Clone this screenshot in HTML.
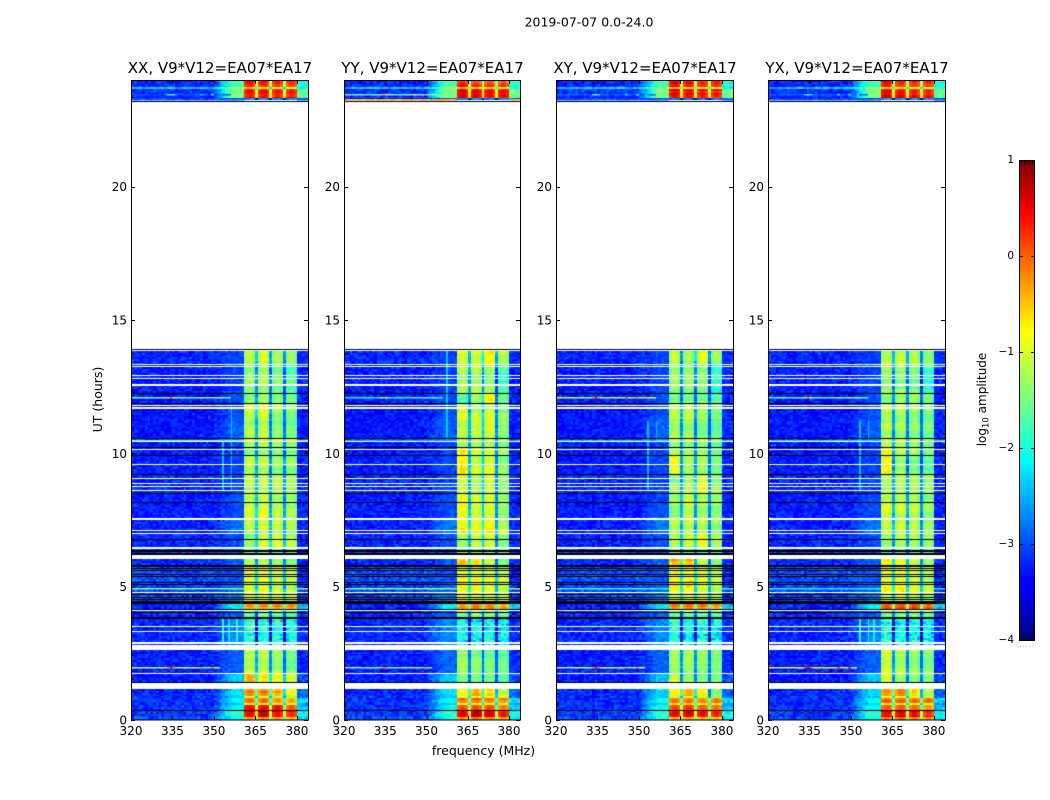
<!DOCTYPE html>
<html lang="en">
<head>
<meta charset="utf-8">
<title>2019-07-07 amplitude waterfall</title>
<style>
html,body{margin:0;padding:0;background:#fff;width:1050px;height:800px;overflow:hidden}
#stage{position:relative;width:1050px;height:800px}
canvas{position:absolute;display:block}
svg{position:absolute;left:0;top:0}
text{font-family:"DejaVu Sans","Liberation Sans",sans-serif;fill:#000}
</style>
</head>
<body>
<div id="stage">
<canvas id="heat-xx"></canvas>
<canvas id="heat-yy"></canvas>
<canvas id="heat-xy"></canvas>
<canvas id="heat-yx"></canvas>
<canvas id="cbar"></canvas>
<svg id="overlay" width="1050" height="800" xmlns="http://www.w3.org/2000/svg">
<text x="589" y="26.5" font-size="12.5" text-anchor="middle">2019-07-07 0.0-24.0</text>
<text x="483.5" y="755" font-size="12.5" text-anchor="middle">frequency (MHz)</text>
<text transform="translate(102,399.5) rotate(-90)" font-size="12.5" text-anchor="middle">UT (hours)</text>
<text transform="translate(986,399.5) rotate(-90)" font-size="12" text-anchor="middle">log<tspan font-size="8.5" dy="2.5">10</tspan><tspan dy="-2.5"> amplitude</tspan></text>
<text x="1017" y="647" font-size="6" fill="#888" style="fill:#888;letter-spacing:.95px">......</text>
</svg>
</div>
<script>
// ---- panel labels ----
const polarisations = ['XX', 'YY', 'XY', 'YX'];
const baselineLabel = 'V9*V12=EA07*EA17';
const freqTicks = [320, 335, 350, 365, 380];
const utTicks = [0, 5, 10, 15, 20];
const cbarTicks = [1, 0, -1, -2, -3, -4];

// ---- time blocks: upper and lower edge in UT hours ----
const blockTop = [24,23.72,23.66,23.31,13.93,13.31,12.26,11.89,11.3,10.58,10.43,10.25,9.93,9.21,8.51,7.51,6.99,6.43,6.02,5.81,5.2,4.76,4.4,4.18,3.83,2.64,1.73,1.18,0.9,0.81,0.64,0.56,0.39,0.1];
const blockBot = [23.72,23.66,23.31,23.25,13.31,12.26,11.89,11.3,10.58,10.43,10.25,9.93,9.21,8.51,7.51,6.99,6.43,6.02,5.81,5.2,4.76,4.4,4.18,3.83,2.64,1.73,1.18,0.9,0.81,0.64,0.56,0.39,0.1,0];

// ---- log10 amplitude per block: below band, 356-360 MHz shoulder, above 380 MHz ----
const oobLevel = [-3.2,-2.4,-3.15,-3.2,-3.2,-3.25,-3.25,-3.3,-3.3,-3.05,-3.25,-3.28,-3.25,-3.2,-3.25,-3.25,-3.2,-3.1,-3.2,-3.0,-3.05,-3.05,-3.2,-3.2,-3.2,-3.25,-3.25,-3.2,-3.15,-3.15,-3.15,-3.15,-3.1,-3.0];
const shoulderLevel = [-1.8,-1.4,-1.5,-2.9,-3.05,-3.05,-3,-3,-2.9,-2.7,-3.05,-3.05,-3.05,-3.05,-3,-2.8,-3,-3,-2.9,-3,-2.9,-2.7,-2.2,-2.9,-2.7,-2.9,-2.4,-2.3,-2.4,-2.1,-2.4,-2.1,-1.9,-2.1];
const upperLevel = [-2,-2.1,-1.6,-2.9,-3.2,-3.2,-3.2,-3.2,-3.2,-3.1,-3.2,-3.2,-3.2,-3.2,-3.2,-3.2,-3.2,-3.2,-3.2,-3.15,-3.1,-3.1,-2.4,-3.15,-3.15,-3.2,-3,-2.9,-2.8,-2.3,-2.7,-2.4,-2.1,-2.3];
const bandScatter = [0.06,0.08,0.05,0.2,0.12,0.12,0.14,0.14,0.14,0.15,0.14,0.12,0.12,0.1,0.12,0.12,0.1,0.18,0.1,0.14,0.14,0.14,0.05,0.25,0.45,0.08,0.08,0.05,0.05,0.05,0.05,0.05,0.05,0.05];

// ---- log10 amplitude of the four 5 MHz sub-bands, per block ----
const bandXX = [[.45,.4,.35,.3],[-.3,-.5,-.6,-.7],[.5,.5,.45,.45],[-2.6,-2.6,-2.6,-2.6],[-1.05,-.9,-1.1,-1.2],[-1.2,-1.1,-1.3,-1.5],[-1.3,-1.15,-1.3,-1.4],[-.85,-.7,-1.1,-1.2],[-1.1,-1,-1.25,-1.35],[-.7,-.7,-.7,-.8],[-1.2,-1.1,-1.2,-1.3],[-1.2,-1.1,-1.2,-1.3],[-1,-1,-1.2,-1.2],[-1,-1,-1,-1.1],[-.9,-.8,-1,-1.1],[-1,-.9,-.95,-1.05],[-1.3,-.9,-.85,-1],[-1.35,-1.2,-1.3,-1.3],[-1.1,-1.1,-1.2,-1.3],[-.6,-.6,-.7,-.8],[-.8,-.7,-.9,-1],[-.8,-.7,-.8,-.9],[-.3,-.25,-.2,-.25],[-1.35,-1.3,-1.4,-1.5],[-1.8,-1.9,-1.8,-1.9],[-.95,-.95,-1.1,-1.3],[-.4,-.6,-.7,-.9],[-.15,-.15,-.35,-.7],[-.85,-.8,-.9,-1],[0,0,-.2,-.3],[-.6,-.6,-.7,-.8],[.35,.35,.3,-.05],[.6,.8,.55,.4],[-.2,-.1,-.2,-.3]];
const bandYY = [[.45,.25,.2,.2],[-.4,-.5,-.6,-.7],[.55,.5,.4,.45],[-2.6,-2.6,-2.6,-2.6],[-.8,-.9,-.6,-1],[-1.1,-1.1,-1.2,-1.6],[-1.5,-1.1,-.6,-1.3],[-.75,-1,-.85,-1.15],[-1,-1,-.9,-1.25],[-.8,-.9,-.8,-1],[-1.1,-1.1,-1.1,-1.3],[-.6,-1,-1,-1.2],[-.5,-.9,-.8,-1.2],[-.8,-1,-.8,-1.1],[-.7,-.95,-.9,-1.2],[-.6,-.7,-.6,-1],[-1.1,-.9,-.8,-1.2],[-1.35,-1.3,-1.3,-1.4],[-.4,-.5,-.9,-1.3],[-.7,-.7,-.75,-.9],[-.7,-.7,-.8,-1],[-.7,-.6,-.75,-.9],[-.15,-.05,-.1,-.25],[-1.4,-1.4,-1.4,-1.5],[-1.85,-1.9,-1.9,-2],[-1.1,-1.25,-1.35,-1.4],[-1.3,-1.35,-1.35,-1.5],[-.7,-.4,-.5,-1],[-.8,-.8,-.85,-1],[-.05,0,-.1,-.15],[-.6,-.6,-.7,-.8],[.2,.2,.2,-.05],[.5,.7,.55,.35],[-.2,-.1,-.2,-.3]];
const bandXY = [[.5,.4,.3,.3],[-.4,-.5,-.6,-.7],[.5,.45,.4,.35],[-2.6,-2.6,-2.6,-2.6],[-1,-1.2,-.8,-1.2],[-1.15,-1.2,-1.25,-1.7],[-1.3,-1.3,-1.3,-1.4],[-1,-1,-1.15,-1.35],[-1.1,-1.15,-1.3,-1.45],[-.9,-.9,-.9,-1.1],[-1.2,-1.2,-1.2,-1.4],[-1,-1.1,-1.1,-1.3],[-.7,-1.1,-1.1,-1.3],[-1.2,-1.1,-.7,-1.2],[-1.2,-.95,-1.1,-1.2],[-1,-1,-1,-1.2],[-1.1,-.95,-.7,-1.1],[-1.35,-1.3,-1.3,-1.4],[-.3,-.4,-.9,-1.2],[-.7,-.7,-.8,-1],[-.65,-.6,-.8,-1],[-.8,-.75,-.8,-1],[-.15,-.1,-.1,-.3],[-1.35,-1.4,-1.4,-1.45],[-1.8,-1.9,-1.85,-1.95],[-1.15,-1.15,-1.2,-1.3],[-.85,-1.2,-1.25,-1.3],[-.5,-.25,-.5,-1.2],[-.85,-.85,-.9,-1.1],[-.1,-.1,-.2,-.1],[-.6,-.6,-.7,-.8],[.1,.2,0,-.1],[.5,.6,.5,.35],[-.25,-.15,-.25,-.35]];
const bandYX = [[.5,.3,.3,.3],[-.4,-.5,-.6,-.7],[.55,.45,.4,.35],[-2.6,-2.6,-2.6,-2.6],[-1,-.9,-1,-1.2],[-1.15,-1.2,-1.3,-1.7],[-1.3,-1.2,-1.2,-1.4],[-.95,-1.05,-1.15,-1.3],[-1.1,-1.15,-1.25,-1.35],[-.9,-.9,-.9,-1.1],[-1.1,-1.1,-1.2,-1.4],[-.7,-1,-1.1,-1.3],[-.6,-1.1,-1.3,-1.4],[-1.1,-1.1,-1.1,-1.2],[-.9,-.95,-1,-1.2],[-.95,-.95,-1,-1.15],[-1.1,-1,-1,-1.1],[-1.35,-1.3,-1.35,-1.4],[-.7,-.8,-1,-1.25],[-.7,-.7,-.8,-.95],[-.7,-.65,-.85,-1],[-.8,-.75,-.85,-1],[.1,.1,.15,0],[-1.35,-1.35,-1.4,-1.45],[-1.8,-1.9,-1.85,-1.95],[-.9,-1.1,-1.2,-1.3],[-.75,-1.1,-1.2,-1.2],[-.3,-.2,-.5,-1.1],[-.8,-.8,-.85,-1.05],[.05,.05,0,0],[-.6,-.6,-.7,-.8],[.2,.2,.1,-.1],[.6,.65,.6,.4],[-.2,-.1,-.2,-.3]];

// ---- single bright time rows: UT hour, top channel, level per polarisation ----
const brightHour = [23.47,23.3,12.12,10.5,4.96,2];
const brightTopFreq = [356,384,356,384,384,352];
const brightXX = [-2.9,-2.9,-1.5,-1.7,-1.45,-1.1];
const brightYY = [-1.6,-0.3,-2,-2.6,-1.4,-1.5];
const brightXY = [-2.9,-2.9,-1.1,-2.4,-1.9,-1.1];
const brightYX = [-2.9,-2.9,-1.6,-2.4,-2.1,-0.8];

// ---- interference spikes inside the bright rows ----
const spikeFreq = [333,334,335,345,349,352];
const spikeBoost = [0.9,1.5,0.9,0.9,1,0.5];

// ---- narrow vertical interference lines ----
const linePol = [0,0,0,0,0,1,2,2,3,3,3,3,3];
const lineFreq = [353,356,353,355,358,357,353,356,353,356,353,356,358];
const lineTop = [10.5,11.8,3.8,3.8,3.8,13.9,11.2,11.2,11.2,11.2,3.8,3.8,3.8];
const lineBot = [8.6,8.6,2.9,2.9,2.9,10.5,8.6,10.5,8.6,10.5,2.9,2.9,2.9];
const lineLevel = [-2.4,-2.4,-2,-2.2,-2,-2.4,-2.4,-2.4,-2.4,-2.4,-2,-2,-2.1];

// ---- flagged intervals, UT hours, drawn empty ----
const gapTop = [13.875,13.35,13.28,12.94,12.83,12.6,11.81,11.72,10.46,10.17,9.6,9.08,8.89,8.79,8.64,7.56,7.13,7.02,6.49,6.17,4.8,4.52,4.13,3.54,3.34,2.93,2.81,1.76,1.39];
const gapBot = [13.84,13.31,13.24,12.9,12.8,12.54,11.78,11.68,10.43,10.14,9.56,9.04,8.85,8.75,8.61,7.51,7.09,6.99,6.43,6.02,4.76,4.5,4.09,3.51,3.3,2.85,2.64,1.73,1.18];

// ---- zero-amplitude rows, UT hours ----
const blackHour = [23.23,13.91,12.26,11.89,10.58,10.25,9.93,9.21,8.51,8.18,6.79,6.36,6.32,6.27,6.24,5.81,5.77,5.71,5.61,5.49,5.4,5.19,5.1,4.74,4.62,4.54,4.46,4.42,4.39,4.18,4.05,3.87,3.83,1.43,0.39];

// ---- hand-written texture tables (pixel scatter, estimated, not measured per cell) ----
const speckle = [.31,-.62,.14,.87,-.25,-.71,.48,.06,-.93,.52,-.18,.77,-.44,.23,-.58,.95,-.09,.36,-.82,.11,.64,-.33,-.67,.41,.02,-.51,.84,-.2,.29,-.75,.57,-.12,.7,-.39,.18,-.88,.45,-.03,.6,-.54,.26,.91,-.3,-.69,.08,.5,-.16,-.79,.38,.73,-.47,.12,-.6,.34,.99,-.24,-.85,.21,.55,-.07,-.41,.67,-.36,.04,-.73,.43,.16,-.56,.81,-.28,.33,-.91,.62,-.14,.27,-.65,.47,.09,-.37,.75,-.5,.19,-.83,.39,.59,-.22,-.63,.01,.53,-.42,.89,-.11,.24,-.77,.44,-.31,.68];
const rowShift = [.4,-.8,.2,.9,-.3,-.6,.7,.1,-.9,.5,-.2,.8,-.5,.3,-.7,.6,0,-.4,1,-.1,.3,-.9,.5,.2,-.6,.7,-.3,.4,-.8,.1,.9,-.5,.6,-.2,-.7,.3,.8,-.4,.1,-.6,.5];

// ---- jet colour map control points ----
const jetT = [0,.11,.125,.34,.35,.375,.64,.65,.66,.89,.91,1];
const jetR = [0,0,0,0,0,0,1,1,1,1,.9,.5];
const jetG = [0,0,0,.86,.9,1,1,.98,.94,0,0,0];
const jetB = [.5,1,1,1,1,.95,.02,0,0,0,0,0];

const bands = [bandXX, bandYY, bandXY, bandYX];
const brights = [brightXX, brightYY, brightXY, brightYX];
const panelLeft = [131, 344, 556, 768];
const panelW = [177, 176, 177, 177];
const plotTop = 80, plotBottom = 720;
const cmin = -4, cmax = 1;

function xScale(p, f) { return panelLeft[p] + (f - 320) / 64 * panelW[p]; }
function yScale(h) { return plotBottom - h / 24 * (plotBottom - plotTop); }
function interp(xs, ys, t) {
  for (let i = 1; i < xs.length; i++) {
    if (t <= xs[i]) return ys[i - 1] + (ys[i] - ys[i - 1]) * (t - xs[i - 1]) / (xs[i] - xs[i - 1]);
  }
  return ys[ys.length - 1];
}
function color(v) {
  const t = Math.max(0, Math.min(1, (v - cmin) / (cmax - cmin)));
  const c = [jetR, jetG, jetB].map(a => Math.round(255 * interp(jetT, a, t)));
  return 'rgb(' + c[0] + ',' + c[1] + ',' + c[2] + ')';
}
function sp(i, r, p) { return speckle[(i * i * 3 + r * r * 5 + i * r * 7 + p * 11) % speckle.length]; }

function cellLevel(p, b, f, r) {
  const i = f - 320;
  const jitter = rowShift[(r * 7 + p) % rowShift.length];
  const oob = oobLevel[b] + sp(i, r, p) * 0.3;
  if (f < 350) return oob;
  const sh = shoulderLevel[b] + sp(i, r, p) * 0.18;
  if (f < 356) return oob + (sh - oob) * (f - 349) / 7;
  if (f < 360) return sh;
  const bd = bands[p][b];
  if (f === 360) return sh;
  if (f >= 380) return upperLevel[b] + sp(i, r, p) * 0.25;
  const sub = Math.floor((f - 360) / 5);
  let base = bd[sub] + jitter * 0.16 + sp(i, r, p) * bandScatter[b];
  if (bd[sub] < -0.4) base -= 0.12;
  if (f % 5 === 0) return base - 1.4;
  if (f % 5 === 1 || f % 5 === 4) return base - 0.2;
  return base;
}

function drawPanel(p) {
  const cv = document.getElementById(['heat-xx', 'heat-yy', 'heat-xy', 'heat-yx'][p]);
  const w = panelW[p], h = plotBottom - plotTop;
  cv.width = w; cv.height = h;
  cv.style.left = panelLeft[p] + 'px';
  cv.style.top = plotTop + 'px';
  const g = cv.getContext('2d');
  const px = f => Math.round(xScale(p, f) - panelLeft[p]);
  const py = u => Math.round(yScale(u) - plotTop);
  const rowH = 2;
  for (let b = 0; b < blockTop.length; b++) {
    const y0 = py(blockTop[b]), y1 = py(blockBot[b]);
    for (let y = y0; y < y1; y += rowH) {
      const r = y >> 1;
      for (let f = 320; f < 384; f++) {
        g.fillStyle = color(cellLevel(p, b, f, r));
        g.fillRect(px(f), y, px(f + 1) - px(f), Math.min(rowH, y1 - y));
      }
    }
  }
  for (let k = 0; k < brightHour.length; k++) {
    const y = py(brightHour[k]);
    for (let f = 320; f < brightTopFreq[k]; f++) {
      if (f > 360 && f < 380) continue;
      const s = spikeFreq.indexOf(f);
      const boost = s >= 0 && brightTopFreq[k] < 384 ? spikeBoost[s] : 0;
      g.fillStyle = color(brights[p][k] + boost + sp(f, k, p) * 0.2);
      g.fillRect(px(f), y, px(f + 1) - px(f), 1.5);
    }
  }
  for (let k = 0; k < lineFreq.length; k++) {
    if (linePol[k] !== p) continue;
    const y0 = py(lineTop[k]), y1 = py(lineBot[k]);
    g.fillStyle = color(lineLevel[k]);
    g.fillRect(px(lineFreq[k]), y0, px(lineFreq[k] + 1) - px(lineFreq[k]) - 1, y1 - y0);
  }
  for (let k = 0; k < gapTop.length; k++) {
    const y0 = py(gapTop[k]), y1 = py(gapBot[k]);
    g.clearRect(0, y0, w, Math.max(1, y1 - y0));
  }
  g.fillStyle = '#000';
  for (let k = 0; k < blackHour.length; k++) g.fillRect(0, py(blackHour[k]), w, 1);
}

function svgEl(tag, attrs) {
  const el = document.createElementNS('http://www.w3.org/2000/svg', tag);
  for (const k in attrs) el.setAttribute(k, attrs[k]);
  return el;
}

function drawAxes(p) {
  const svg = document.getElementById('overlay');
  const L = panelLeft[p], R = L + panelW[p];
  const pol = polarisations[p].toLowerCase();
  const frame = svgEl('rect', {x: L + .5, y: plotTop + .5, width: panelW[p], height: plotBottom - plotTop - .5, fill: 'none', stroke: '#000', 'stroke-width': 1});
  
  
  svg.appendChild(frame);
  const title = svgEl('text', {x: (L + R) / 2 + .5, y: 73, 'font-size': 15, 'text-anchor': 'middle'});
  title.textContent = polarisations[p] + ', ' + baselineLabel;
  
  
  svg.appendChild(title);
  freqTicks.forEach(f => {
    const x = Math.round(xScale(p, f)) + .5;
    const t = svgEl('path', {d: 'M' + x + ' ' + plotBottom + 'v-4M' + x + ' ' + plotTop + 'v4', stroke: '#000', 'stroke-width': 1, fill: 'none'});
    
    
    svg.appendChild(t);
    const lab = svgEl('text', {x: xScale(p, f), y: 735, 'font-size': 12, 'text-anchor': 'middle'});
    lab.textContent = f;
    
    
    svg.appendChild(lab);
  });
  utTicks.forEach(u => {
    const y = Math.round(yScale(u)) + .5;
    const t = svgEl('path', {d: 'M' + L + ' ' + y + 'h4M' + R + ' ' + y + 'h-4', stroke: '#000', 'stroke-width': 1, fill: 'none'});
    
    
    svg.appendChild(t);
    const lab = svgEl('text', {x: L - 4, y: yScale(u) + 4.5, 'font-size': 12, 'text-anchor': 'end'});
    lab.textContent = u;
    
    
    svg.appendChild(lab);
  });
}

function drawColorbar() {
  const cbL = 1019, cbW = 16, cbT = 160, cbB = 640;
  const yOf = v => cbT + (cmax - v) / (cmax - cmin) * (cbB - cbT);
  const cv = document.getElementById('cbar');
  cv.width = cbW; cv.height = cbB - cbT;
  cv.style.left = cbL + 'px';
  cv.style.top = cbT + 'px';
  const g = cv.getContext('2d');
  for (let y = 0; y < cbB - cbT; y++) {
    g.fillStyle = color(cmax - (y + .5) / (cbB - cbT) * (cmax - cmin));
    g.fillRect(0, y, cbW, 1);
  }
  const svg = document.getElementById('overlay');
  const fr = svgEl('rect', {x: cbL + .5, y: cbT + .5, width: cbW - 1, height: cbB - cbT, fill: 'none', stroke: '#000', 'stroke-width': 1});
  
  
  svg.appendChild(fr);
  cbarTicks.forEach(v => {
    const y = Math.round(yOf(v)) + .5;
    const t = svgEl('path', {d: 'M' + cbL + ' ' + y + 'h4M' + (cbL + cbW) + ' ' + y + 'h-4', stroke: '#000', 'stroke-width': 1, fill: 'none'});
    
    
    svg.appendChild(t);
    const lab = svgEl('text', {x: cbL - 5, y: yOf(v) + 3, 'font-size': 10.5, 'text-anchor': 'end'});
    lab.textContent = String(v).replace('-', '\u2212');
    
    
    svg.appendChild(lab);
  });
  let d = '';
  for (let k = 1; k < 6; k++) {
    const x = cbL + k * cbW / 6;
    d += 'M' + x + ' ' + cbT + 'v5M' + x + ' ' + cbB + 'v-5';
  }
  const minor = svgEl('path', {d: d, stroke: '#000', 'stroke-width': .8, fill: 'none'});
  
  
  svg.appendChild(minor);
}

for (let p = 0; p < 4; p++) { drawPanel(p); drawAxes(p); }
drawColorbar();
</script>
</body>
</html>
